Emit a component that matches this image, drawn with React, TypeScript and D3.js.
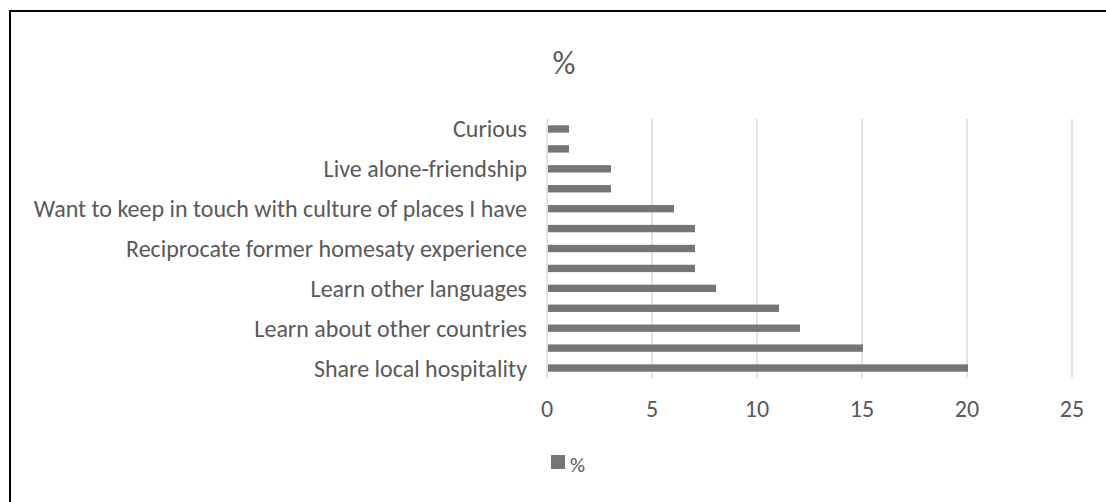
import React from "react";
import { scaleBand, scaleLinear } from "d3";

// bottom to top, as in the chart
const reasons = [
  "Share local hospitality",
  "Meet new people",
  "Learn about other countries",
  "Make new friends",
  "Learn other languages",
  "Children learn about other cultures",
  "Reciprocate former homesaty experience",
  "Extra income",
  "Want to keep in touch with culture of places I have",
  "Company",
  "Live alone-friendship",
  "Recommended by friends",
  "Curious",
];
const percents = [20, 15, 12, 11, 8, 7, 7, 7, 6, 3, 3, 1, 1];
const xTicks = [0, 5, 10, 15, 20, 25];
const seriesName = "%";

const W = 1106;
const H = 502;
const margin = { top: 119, right: 34, bottom: 124, left: 547 };
const font = "Calibri, Carlito, 'Open Sans', sans-serif";
const textColor = "#595959";
const barColor = "#767676";

export default function App() {
  const x = scaleLinear()
    .domain([0, 25])
    .range([margin.left, W - margin.right]);
  const y = scaleBand<string>()
    .domain(reasons.slice().reverse())
    .range([margin.top, H - margin.bottom])
    .paddingInner(0.63)
    .paddingOuter(0.315);
  const bw = y.bandwidth();

  return (
    <svg
      width={W}
      height={H}
      style={{ position: "absolute", left: 0, top: 0, background: "#fff" }}
    >
      <rect x={10} y={11} width={W + 10} height={H + 10} fill="#fff" stroke="#000" strokeWidth={2} />
      <text x={564} y={63} textAnchor="middle" dominantBaseline="central" fontFamily={font} fontSize={32} fill={textColor}>
        {seriesName}
      </text>

      {xTicks.map((t) => (
        <g key={t}>
          <line x1={x(t)} x2={x(t)} y1={margin.top} y2={H - margin.bottom} stroke="#d9d9d9" strokeWidth={1.5} />
          <text x={x(t)} y={408} textAnchor="middle" dominantBaseline="central" fontFamily={font} fontSize={24} fill={textColor}>
            {t}
          </text>
        </g>
      ))}

      {reasons.map((r, i) => (
        <rect key={r} x={x(0) + 1} y={y(r)!} width={x(percents[i]) - x(0)} height={bw} fill={barColor} />
      ))}

      {reasons.map((r, i) =>
        i % 2 === 0 ? (
          <text key={r} x={527} y={y(r)! + bw / 2} textAnchor="end" dominantBaseline="central" fontFamily={font} fontSize={24} fill={textColor}>
            {r}
          </text>
        ) : null
      )}

      <rect x={551} y={455} width={14} height={14} fill={barColor} />
      <text x={570} y={465} dominantBaseline="central" fontFamily={font} fontSize={21} fill={textColor}>
        {seriesName}
      </text>
    </svg>
  );
}
